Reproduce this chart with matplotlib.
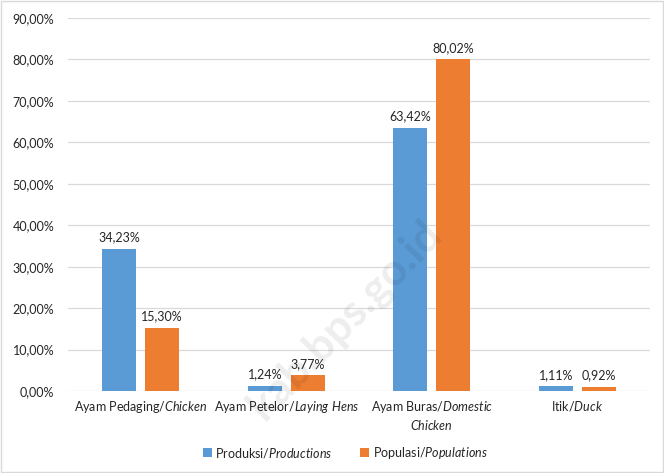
import matplotlib
matplotlib.use("Agg")
import matplotlib.pyplot as plt
import numpy as np

categories = ["Ayam Pedaging/$\\mathit{Chicken}$",
              "Ayam Petelor/$\\mathit{Laying\\ Hens}$",
              "Ayam Buras/$\\mathit{Domestic}$\n$\\mathit{Chicken}$",
              "Itik/$\\mathit{Duck}$"]
produksi = [34.23, 1.24, 63.42, 1.11]
populasi = [15.30, 3.77, 80.02, 0.92]
series_labels = ["Produksi/$\\mathit{Productions}$", "Populasi/$\\mathit{Populations}$"]
yticks = [0, 10, 20, 30, 40, 50, 60, 70, 80, 90]

plt.rcParams['font.family'] = ['Lato', 'DejaVu Sans']
plt.rcParams['mathtext.fontset'] = 'custom'
plt.rcParams['mathtext.rm'] = 'Lato'
plt.rcParams['mathtext.it'] = 'Lato:italic'
plt.rcParams['mathtext.default'] = 'rm'

fig = plt.figure(figsize=(6.64, 4.73), dpi=100)
ax = fig.add_axes([68/664, 1 - 391/473, (650-68)/664, (391-18)/473])

blue = '#5B9BD5'
orange = '#ED7D31'
x = np.arange(len(categories))
w = 0.235
gap = 0.06
b1 = ax.bar(x - w/2 - gap/2, produksi, w, color=blue, label=series_labels[0], zorder=3)
b2 = ax.bar(x + w/2 + gap/2, populasi, w, color=orange, label=series_labels[1], zorder=3)

def fmt(v):
    return f"{v:.2f}".replace('.', ',') + '%'

for bars, vals in ((b1, produksi), (b2, populasi)):
    for r, v in zip(bars, vals):
        ax.annotate(fmt(v), (r.get_x() + r.get_width()/2, v), xytext=(0, 4),
                    textcoords='offset points', ha='center', va='bottom',
                    fontsize=9, color='#262626')

ax.set_xlim(-0.5, len(categories) - 0.5)
ax.set_ylim(0, 90)
ax.set_yticks(yticks)
ax.set_yticklabels([fmt(t) for t in yticks], fontsize=9, color='#262626')
ax.set_xticks(x)
ax.set_xticklabels(categories, fontsize=9, color='#262626', va='top')
ax.tick_params(axis='both', length=0)
ax.tick_params(axis='x', pad=6)
ax.tick_params(axis='y', pad=10)
ax.grid(axis='y', color='#D9D9D9', linewidth=0.9, zorder=0)
for s in ax.spines.values():
    s.set_visible(False)

leg = fig.legend(handles=[b1, b2], labels=series_labels, loc='center',
                 bbox_to_anchor=(0.52, 1 - 453/473), ncol=2, frameon=False,
                 fontsize=9, handlelength=0.7, handleheight=0.7,
                 handletextpad=0.3, columnspacing=2.2)
for t in leg.get_texts():
    t.set_color('#262626')

# watermark
fig.text(345/664, 1 - 320/473, "kab.bps.go.id", fontsize=32, fontweight='bold',
         color='#000000', alpha=0.07, rotation=46, ha='center', va='center')

# border
fig.patches.append(plt.Rectangle((0.002, 0.002), 0.996, 0.996, transform=fig.transFigure,
                                 fill=False, edgecolor='#D9D9D9', linewidth=1))

fig.savefig('out.png', dpi=100)
